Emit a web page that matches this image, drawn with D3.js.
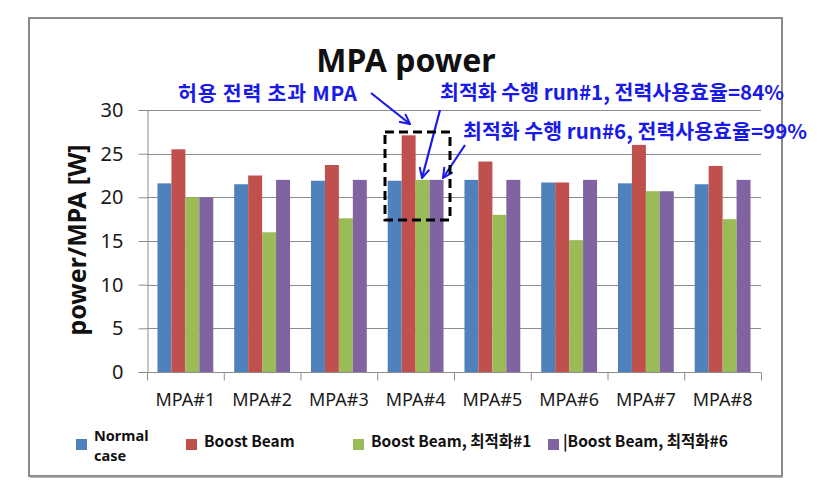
<!DOCTYPE html>
<html>
<head>
<meta charset="utf-8">
<script src="https://cdn.jsdelivr.net/npm/d3@7"></script>
<style>
  html, body { margin: 0; padding: 0; background: #fff; }
  svg { display: block; }
  text { font-family: "Noto Sans", "Noto Sans CJK KR", sans-serif; }
  .kr { font-family: "Noto Sans CJK KR", "Noto Sans", sans-serif; }
</style>
</head>
<body>
<svg id="chart" width="829" height="495"></svg>
<script>
// ---- data ----
const categories = ["MPA#1", "MPA#2", "MPA#3", "MPA#4", "MPA#5", "MPA#6", "MPA#7", "MPA#8"];
const seriesNames = ["Normal case", "Boost Beam", "Boost Beam, 최적화#1", "|Boost Beam, 최적화#6"];
const normalCase   = [21.6, 21.5, 21.9, 21.9, 22.0, 21.7, 21.6, 21.5];
const boostBeam    = [25.5, 22.5, 23.7, 27.1, 24.1, 21.7, 26.0, 23.6];
const boostOpt1    = [20.0, 16.0, 17.6, 22.0, 18.0, 15.1, 20.7, 17.5];
const boostOpt6    = [20.0, 22.0, 22.0, 22.0, 22.0, 22.0, 20.7, 22.0];
const yTicks = [0, 5, 10, 15, 20, 25, 30];
const titleText = "MPA power";
const yAxisTitle = "power/MPA [W]";
const note1 = "허용 전력 초과 MPA";
const note2 = "최적화 수행 run#1, 전력사용효율=84%";
const note3 = "최적화 수행 run#6, 전력사용효율=99%";

const seriesValues = [normalCase, boostBeam, boostOpt1, boostOpt6];
const colors = ["#4F81BD", "#C0504D", "#9BBB59", "#8064A2"];

const svg = d3.select("#chart");

// frame
svg.append("rect").attr("x", 29).attr("y", 18).attr("width", 753).attr("height", 458)
  .attr("fill", "#fff").attr("stroke", "#8a8a8a").attr("stroke-width", 2);
svg.append("line").attr("x1", 30).attr("x2", 783).attr("y1", 477).attr("y2", 477)
  .attr("stroke", "#9a9a9a").attr("stroke-width", 1.5);

const pLeft = 147, pRight = 761, pTop = 110, pBottom = 372;

const x = d3.scaleBand().domain(categories).range([pLeft, pRight]).paddingInner(0).paddingOuter(0);
const bw = x.bandwidth();
const barW = bw / 5.5;
const xs = d3.scaleBand().domain(d3.range(4)).range([barW * 0.75, bw - barW * 0.75]).padding(0);
const y = d3.scaleLinear().domain([0, 30]).range([pBottom, pTop]);

// gridlines
svg.append("g").selectAll("line").data(yTicks.filter(t => t > 0)).join("line")
  .attr("x1", pLeft).attr("x2", pRight)
  .attr("y1", d => Math.round(y(d)) + 0.5).attr("y2", d => Math.round(y(d)) + 0.5)
  .attr("stroke", "#8c8c8c").attr("stroke-width", 1);

// y axis
const yAxis = svg.append("g").attr("transform", `translate(${pLeft + 0.5},0)`)
  .call(d3.axisLeft(y).tickValues(yTicks).tickSize(9).tickPadding(15).tickFormat(d3.format("d")));
yAxis.select(".domain").attr("stroke", "#8c8c8c");
yAxis.selectAll(".tick line").attr("stroke", "#8c8c8c");
yAxis.selectAll(".tick text").attr("font-size", 20).attr("fill", "#1a1a1a")
  .style("font-family", "'Noto Sans', sans-serif");

// bars
const groups = svg.append("g").selectAll("g").data(categories).join("g")
  .attr("transform", d => `translate(${x(d)},0)`);
groups.selectAll("rect").data((d, i) => seriesValues.map((s, k) => ({k, v: s[i]}))).join("rect")
  .attr("x", d => xs(d.k)).attr("width", xs.bandwidth())
  .attr("y", d => y(d.v)).attr("height", d => y(0) - y(d.v))
  .attr("fill", d => colors[d.k]);

// x axis
const xAxis = svg.append("g").attr("transform", `translate(0,${pBottom + 0.5})`);
xAxis.append("line").attr("x1", pLeft).attr("x2", pRight).attr("stroke", "#8c8c8c");
xAxis.selectAll("line.tk").data(d3.range(categories.length + 1)).join("line").attr("class", "tk")
  .attr("x1", i => pLeft + i * bw + 0.5).attr("x2", i => pLeft + i * bw + 0.5)
  .attr("y1", 0).attr("y2", 8).attr("stroke", "#8c8c8c");
svg.append("g").selectAll("text").data(categories).join("text")
  .attr("x", d => x(d) + bw / 2).attr("y", 406).attr("text-anchor", "middle")
  .attr("font-size", 18).attr("fill", "#1a1a1a").text(d => d);

// title
svg.append("text").attr("x", 406).attr("y", 72).attr("text-anchor", "middle")
  .attr("font-size", 32).attr("font-weight", "bold").attr("fill", "#111").text(titleText);

// y axis title
svg.append("text").attr("transform", "translate(86,240) rotate(-90)").attr("text-anchor", "middle")
  .attr("font-size", 25).attr("font-weight", "bold").attr("fill", "#111").text(yAxisTitle);

// legend
const legX = [76, 186, 353, 548];
const leg = svg.append("g");
leg.selectAll("rect").data(colors).join("rect")
  .attr("x", (d, i) => legX[i]).attr("y", 439).attr("width", 11).attr("height", 11)
  .attr("fill", d => d);
seriesNames.forEach((name, i) => {
  if (i === 0) {
    const parts = name.split(" ");
    leg.append("text").attr("x", legX[0] + 18).attr("y", 441)
      .attr("font-size", 14.5).attr("font-weight", "bold").attr("fill", "#111").text(parts[0]);
    leg.append("text").attr("x", legX[0] + 18).attr("y", 461)
      .attr("font-size", 14.5).attr("font-weight", "bold").attr("fill", "#111").text(parts[1]);
  } else {
    leg.append("text").attr("class", "kr")
      .attr("x", legX[i] + (i === 3 ? 15 : 18)).attr("y", 447)
      .attr("font-size", 15.5).attr("font-weight", "bold").attr("fill", "#111").text(name);
  }
});

// annotations
const blue = "#1a1ae8";
const defs = svg.append("defs");
defs.append("marker").attr("id", "arr").attr("viewBox", "0 0 12 12").attr("refX", 11).attr("refY", 6)
  .attr("markerWidth", 12).attr("markerHeight", 12).attr("markerUnits", "userSpaceOnUse")
  .attr("orient", "auto")
  .append("path").attr("d", "M1,1 L11,6 L1,11").attr("fill", "none").attr("stroke", blue).attr("stroke-width", 2);

const notes = [
  {t: note1, x: 178, y: 101, w: 179},
  {t: note2, x: 440, y: 100, w: 344},
  {t: note3, x: 463, y: 139, w: 344}
];
svg.append("g").selectAll("text").data(notes).join("text")
  .attr("class", "kr")
  .attr("x", d => d.x).attr("y", d => d.y)
  .attr("textLength", d => d.w).attr("lengthAdjust", "spacing")
  .attr("font-size", 20.5).attr("font-weight", "bold").attr("fill", blue).text(d => d.t);

const arrows = [
  [371, 93, 410, 124],
  [440, 110, 422, 178],
  [465, 145, 443, 178]
];
svg.append("g").selectAll("line").data(arrows).join("line")
  .attr("x1", d => d[0]).attr("y1", d => d[1]).attr("x2", d => d[2]).attr("y2", d => d[3])
  .attr("stroke", blue).attr("stroke-width", 2.2).attr("marker-end", "url(#arr)");

// dashed highlight box
svg.append("rect").attr("x", 385).attr("y", 132).attr("width", 65).attr("height", 88)
  .attr("fill", "none").attr("stroke", "#000").attr("stroke-width", 3).attr("stroke-dasharray", "9,5");
</script>
</body>
</html>
